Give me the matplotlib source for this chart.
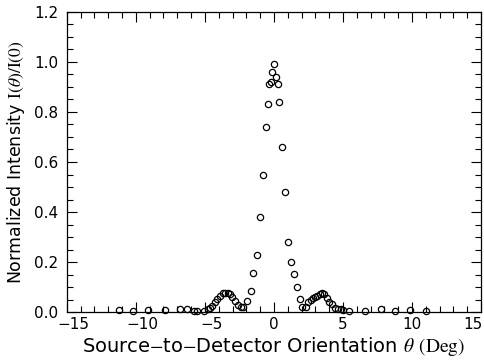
import numpy as np
import matplotlib
matplotlib.use("Agg")
import matplotlib.pyplot as plt
import matplotlib.transforms as mtransforms
from matplotlib.ticker import MultipleLocator

plt.rcParams["font.family"] = "DejaVu Sans"
plt.rcParams["mathtext.fontset"] = "stix"

# angle (deg) and normalized intensity
theta = [
    -11.2, -10.2, -9.1, -7.9, -6.8, -6.3, -5.8, -5.6, -5.1,
    -4.76, -4.64, -4.45, -4.28, -4.1, -3.91, -3.72, -3.55, -3.36, -3.19,
    -3.07, -2.83, -2.58, -2.41, -2.22, -1.93, -1.69, -1.5, -1.26, -1.01,
    -0.77, -0.58, -0.46, -0.36, -0.22, -0.12, 0.0, 0.12, 0.27, 0.34,
    0.56, 0.80, 0.99, 1.21, 1.43, 1.64, 1.86, 2.05, 2.3, 2.49, 2.66,
    2.80, 2.97, 3.14, 3.33, 3.50, 3.62, 3.82, 4.01, 4.18, 4.42, 4.62,
    4.83, 5.0, 5.46, 6.59, 7.73, 8.77, 9.86, 11.0,
]
intensity = [
    0.008, 0.006, 0.008, 0.010, 0.012, 0.012, 0.006, 0.004, 0.006,
    0.012, 0.015, 0.026, 0.039, 0.052, 0.066, 0.075, 0.078, 0.077, 0.072,
    0.062, 0.046, 0.028, 0.021, 0.020, 0.043, 0.084, 0.155, 0.23, 0.38,
    0.55, 0.74, 0.83, 0.91, 0.92, 0.96, 0.99, 0.94, 0.91, 0.84,
    0.66, 0.48, 0.28, 0.20, 0.153, 0.099, 0.052, 0.021, 0.021, 0.039, 0.048,
    0.055, 0.059, 0.064, 0.072, 0.077, 0.072, 0.055, 0.041, 0.031, 0.018, 0.012,
    0.012, 0.010, 0.005, 0.006, 0.011, 0.006, 0.010, 0.003,
]

fig = plt.figure(figsize=(4.84, 3.6), dpi=100)
ax = fig.add_axes([0.138, 0.133, 0.856, 0.834])

ax.plot(theta, intensity, "o", mfc="none", mec="black", ms=4.5, mew=0.9,
        clip_on=False)

ax.set_xlim(-15, 15)
ax.set_ylim(0, 1.2)
ax.xaxis.set_major_locator(MultipleLocator(5))
ax.xaxis.set_minor_locator(MultipleLocator(1))
ax.yaxis.set_major_locator(MultipleLocator(0.2))
ax.yaxis.set_minor_locator(MultipleLocator(0.05))
ax.yaxis.set_major_formatter(plt.FuncFormatter(lambda v, p: f"{v:.1f}"))
ax.xaxis.set_major_formatter(plt.FuncFormatter(lambda v, p: f"{v:.0f}".replace("-", "\u2212")))

ax.tick_params(which="both", direction="in", top=True, right=True,
               labelsize=11, width=0.8, colors="black")
ax.tick_params(which="major", length=7)
ax.tick_params(which="minor", length=4)
ax.tick_params(axis="y", pad=6)
for s in ax.spines.values():
    s.set_linewidth(0.9)

# centre the x labels on their digits (minus sign hangs left), keep 15 inside
fig.canvas.draw()
for lab, loc in zip(ax.get_xticklabels(), ax.get_xticks()):
    dx = 0
    if loc < 0:
        dx = 7
    elif loc >= 15:
        dx = -8
    if dx:
        lab.set_transform(lab.get_transform() +
                          mtransforms.ScaledTranslation(dx / 100, 0, fig.dpi_scale_trans))

ax.set_xlabel(r"Source$-$to$-$Detector Orientation $\theta$ $\mathrm{(Deg)}$",
              fontsize=14, labelpad=2)
ax.set_ylabel(r"Normalized Intensity $\mathrm{I}(\theta)/\mathrm{I}(0)$",
              fontsize=12.5, labelpad=5)

fig.savefig("out.png", dpi=100)
